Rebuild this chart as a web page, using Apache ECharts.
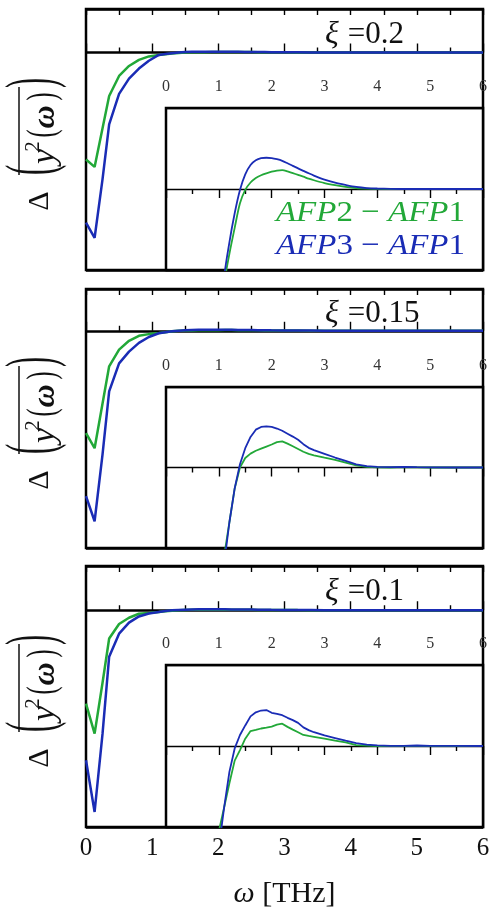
<!DOCTYPE html>
<html>
<head>
<meta charset="utf-8">
<script src="https://cdn.jsdelivr.net/npm/echarts@6/dist/echarts.min.js"></script>
<style>
html,body{margin:0;padding:0;background:#fff;}
#chart{width:489px;height:913px;}
</style>
</head>
<body>
<div id="chart"></div>
<script>
// frequency grid, THz
var omega = [0, 0.13, 0.25, 0.35, 0.5, 0.65, 0.8, 0.95,
	1.1, 1.2, 1.3, 1.4, 1.5, 1.6, 1.7, 1.8, 1.9, 2.0, 2.1, 2.2, 2.3, 2.4, 2.5, 2.6, 2.7, 2.8,
	3.0, 3.2, 3.4, 3.6, 3.8, 4.0,
	4.25, 4.5, 4.75, 5.0, 5.5, 6.0];

// xi = 0.2
var green02 = [-2.46, -2.63, -1.74, -1.00, -0.54, -0.31, -0.17, -0.09,
	-0.058, -0.040, -0.024, -0.0088, -0.0005, 0.0040, 0.0068, 0.0085, 0.0097, 0.0107, 0.0114, 0.0116, 0.0109, 0.0098, 0.0087, 0.0076, 0.0064, 0.0054,
	0.0037, 0.0024, 0.0013, 0.0005, 0.0002, 0.0001,
	0, 0, 0, 0, 0, 0];
var blue02 = [-3.91, -4.26, -2.91, -1.65, -0.95, -0.60, -0.37, -0.19,
	-0.056, -0.033, -0.015, -0.0006, 0.0090, 0.0148, 0.0177, 0.0190, 0.0193, 0.0191, 0.0184, 0.0174, 0.0159, 0.0143, 0.0127, 0.0112, 0.0097, 0.0083,
	0.0058, 0.0039, 0.0025, 0.0013, 0.0006, 0.0003,
	0.0001, 0, 0, 0, 0, 0];

// xi = 0.15
var green015 = [-2.45, -2.81, -1.74, -0.85, -0.45, -0.24, -0.12, -0.08,
	-0.055, -0.034, -0.013, 0.0000, 0.0059, 0.0086, 0.0104, 0.0117, 0.0130, 0.0143, 0.0158, 0.0162, 0.0148, 0.0132, 0.0115, 0.0098, 0.0085, 0.0076,
	0.0061, 0.0047, 0.0031, 0.0013, 0.0004, 0.0001,
	0, 0.0003, 0.0001, 0, 0, 0];
var blue015 = [-3.96, -4.56, -2.96, -1.45, -0.78, -0.50, -0.29, -0.15,
	-0.060, -0.034, -0.013, 0.0020, 0.0120, 0.0190, 0.0235, 0.0252, 0.0256, 0.0252, 0.0242, 0.0228, 0.0210, 0.0192, 0.0172, 0.0145, 0.0122, 0.0108,
	0.0085, 0.0062, 0.0041, 0.0019, 0.0008, 0.0004,
	0.0002, 0.0004, 0.0002, 0.0001, 0, 0];

// xi = 0.1
var green01 = [-2.11, -2.79, -1.64, -0.64, -0.31, -0.17, -0.08, -0.06,
	-0.038, -0.023, -0.009, -0.0025, 0.0045, 0.0092, 0.0099, 0.0108, 0.0113, 0.0120, 0.0132, 0.0138, 0.0118, 0.0101, 0.0085, 0.0068, 0.0062, 0.0057,
	0.0046, 0.0033, 0.0022, 0.0006, 0.0002, 0,
	0, 0, 0, 0, 0, 0];
var blue01 = [-3.39, -4.56, -2.79, -1.05, -0.53, -0.28, -0.14, -0.075,
	-0.038, -0.016, -0.0015, 0.0068, 0.0127, 0.0183, 0.0208, 0.0219, 0.0222, 0.0205, 0.0198, 0.0190, 0.0174, 0.0160, 0.0143, 0.0115, 0.0098, 0.0085,
	0.0065, 0.0049, 0.0033, 0.0018, 0.0009, 0.0004,
	0.0001, 0.0001, 0.0003, 0.0001, 0.0001, 0];

var xiValues = ['0.2', '0.15', '0.1'];
var curves = [[green02, blue02], [green015, blue015], [green01, blue01]];
var legendNames = ['AFP2 − AFP1', 'AFP3 − AFP1'];

var serif = '"Liberation Serif", "DejaVu Serif", serif';
var GREEN = '#22a838', BLUE = '#1a2cb5';

// panel placement (pixels)
var layout = [
	{top: 9, height: 261, ymin: -5, inTop: 108, labelY: 143, xiY: 35},
	{top: 289, height: 259, ymin: -5.2, inTop: 387, labelY: 422, xiY: 314},
	{top: 566, height: 261, ymin: -4.9, inTop: 665, labelY: 700, xiY: 592}
];

function pairs(vals) {
	return omega.map(function (w, i) { return [w, vals[i]]; });
}

function yLabel(cy) {
	function t(txt, x, y, font, sx) {
		return {type: 'text', x: x, y: y, scaleX: sx || 1, style: {text: txt, font: font, fill: '#111',
			align: 'center', verticalAlign: 'middle', textAlign: 'center', textVerticalAlign: 'middle'}};
	}
	return {
		type: 'group', x: 40, y: cy, rotation: Math.PI / 2,
		children: [
			t('Δ', -58, 0, '30px ' + serif),
			t('(', -27, -6, '68px ' + serif, 0.45),
			t('y', -13.5, 5.5, 'italic 34px ' + serif),
			t('2', -3.5, -7, '21px ' + serif),
			t('(', 9.5, 3, '40px ' + serif, 0.6),
			t('ω', 26, 5.5, 'italic bold 32px ' + serif),
			t(')', 46.5, 3, '40px ' + serif, 0.6),
			t(')', 60, -6, '68px ' + serif, 0.45),
			{type: 'line', shape: {x1: -32, y1: -21, x2: 56, y2: -21}, style: {stroke: '#111', lineWidth: 1.5}}
		]
	};
}

var grid = [], xAxis = [], yAxis = [], series = [], graphic = [];

layout.forEach(function (p, k) {
	var bottom = p.top + p.height;
	var last = (k === 2);
	grid.push({left: 86, top: p.top, width: 397, height: p.height, show: true, backgroundColor: '#fff',
		borderColor: '#000', borderWidth: 2.5, z: 0, containLabel: false, outerBoundsMode: 'none'});
	grid.push({left: 166, top: p.inTop, width: 317, height: bottom - p.inTop, show: true, backgroundColor: '#fff',
		borderColor: '#000', borderWidth: 2.5, z: 1, containLabel: false, outerBoundsMode: 'none'});

	var tickStyle = {color: '#000', width: 1.4};
	// main, bottom
	xAxis.push({
		type: 'value', gridIndex: 2 * k, position: 'bottom', min: 0, max: 6, interval: 1,
		axisLine: {show: false}, splitLine: {show: false},
		axisTick: {inside: true, length: 9, lineStyle: tickStyle},
		minorTick: {show: true, splitNumber: 2, length: 5, lineStyle: tickStyle},
		axisLabel: {show: last, fontFamily: serif, fontSize: 25, color: '#111', margin: 9},
		name: last ? '{w|ω} [THz]' : '',
		nameLocation: 'middle', nameGap: 52,
		nameTextStyle: {fontFamily: serif, fontSize: 30, color: '#111',
			rich: {w: {fontFamily: serif, fontSize: 30, fontStyle: 'italic', color: '#111'}}}
	});
	// main, top
	xAxis.push({
		type: 'value', gridIndex: 2 * k, position: 'top', min: 0, max: 6, interval: 1,
		axisLine: {show: false}, splitLine: {show: false},
		axisTick: {inside: true, length: 6, lineStyle: tickStyle},
		minorTick: {show: true, splitNumber: 2, length: 6, lineStyle: tickStyle},
		axisLabel: {show: false}
	});
	// inset, top
	xAxis.push({
		type: 'value', gridIndex: 2 * k + 1, position: 'top', min: 0, max: 6, interval: 1, z: 2,
		axisLine: {show: false}, splitLine: {show: false},
		axisTick: {inside: true, length: 9, lineStyle: tickStyle},
		minorTick: {show: true, splitNumber: 2, length: 5, lineStyle: tickStyle},
		axisLabel: {fontFamily: serif, fontSize: 16, color: '#333', margin: 13}
	});

	yAxis.push({
		type: 'value', gridIndex: 2 * k, min: p.ymin, max: 1, interval: -p.ymin,
		axisLine: {show: false}, axisTick: {show: false}, axisLabel: {show: false},
		splitLine: {show: true, lineStyle: {color: '#000', width: 2.5}}
	});
	yAxis.push({
		type: 'value', gridIndex: 2 * k + 1, min: -0.05, max: 0.05, interval: 0.05, z: 2,
		axisLine: {show: false}, axisTick: {show: false}, axisLabel: {show: false},
		splitLine: {show: true, lineStyle: {color: '#000', width: 1.3}}
	});

	[GREEN, BLUE].forEach(function (c, j) {
		var d = pairs(curves[k][j]);
		series.push({
			type: 'line', name: legendNames[j], xAxisIndex: 3 * k, yAxisIndex: 2 * k, data: d,
			showSymbol: false, symbol: 'none', z: 3, clip: true,
			lineStyle: {color: c, width: 2.5}
		});
		series.push({
			type: 'line', name: legendNames[j], xAxisIndex: 3 * k + 2, yAxisIndex: 2 * k + 1, data: d,
			showSymbol: false, symbol: 'none', z: 3, clip: true, smooth: k === 0 ? 0.3 : false,
			lineStyle: {color: c, width: 1.8}
		});
	});

	graphic.push({
		type: 'text', x: 325, y: p.xiY, z: 10,
		style: {
			text: '{g|ξ}{s|  }{n|=' + xiValues[k] + '}', fill: '#111',
			verticalAlign: 'middle', textVerticalAlign: 'middle',
			rich: {
				g: {fontFamily: serif, fontSize: 32, fontStyle: 'italic', fill: '#111', color: '#111'},
				s: {fontFamily: serif, fontSize: 18},
				n: {fontFamily: serif, fontSize: 31, fill: '#111', color: '#111'}
			}
		}
	});
	graphic.push(yLabel(p.labelY));
});

// legend text inside the top inset
[GREEN, BLUE].forEach(function (c, j) {
	var parts = legendNames[j].split(' − ');
	graphic.push({
		type: 'text', x: 465, y: 213 + 33 * j, z: 10, scaleX: 1.1,
		style: {
			text: '{i|' + parts[0].slice(0, 3) + '}{r|' + parts[0].slice(3) + ' − }{i|' + parts[1].slice(0, 3) + '}{r|' + parts[1].slice(3) + '}',
			align: 'right', textAlign: 'right', verticalAlign: 'middle', textVerticalAlign: 'middle',
			fill: c,
			rich: {
				i: {fontFamily: serif, fontSize: 30, fontStyle: 'italic', fill: c, color: c},
				r: {fontFamily: serif, fontSize: 30, fill: c, color: c}
			}
		}
	});
});

var myChart = echarts.init(document.getElementById('chart'));
myChart.setOption({
	animation: false,
	backgroundColor: '#fff',
	grid: grid,
	xAxis: xAxis,
	yAxis: yAxis,
	series: series,
	graphic: graphic
});
</script>
</body>
</html>
